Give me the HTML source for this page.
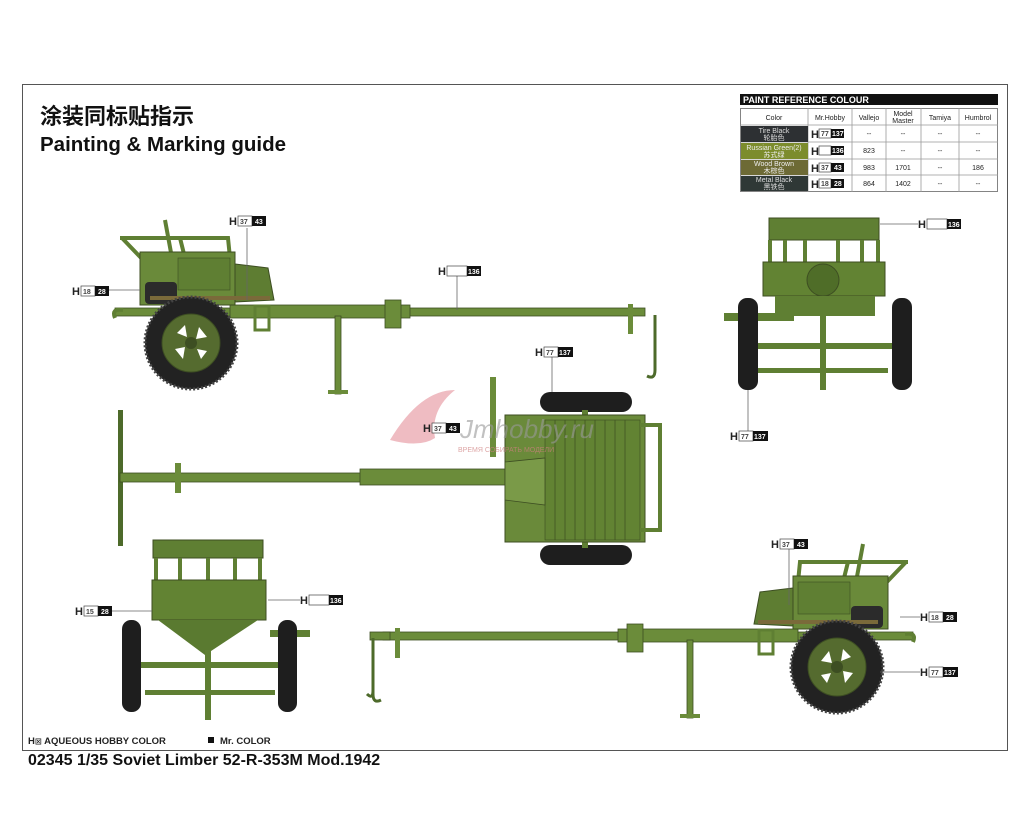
<!DOCTYPE html>
<html><head><meta charset="utf-8"><style>
html,body{margin:0;padding:0;background:#fff;}
svg{display:block;}
text{font-family:"Liberation Sans","Noto Sans CJK SC",sans-serif;}
</style></head><body>
<svg width="1024" height="838" viewBox="0 0 1024 838" xmlns="http://www.w3.org/2000/svg">
<defs>
<g id="wheel">
<circle r="46" fill="#222"/>
<circle r="46" fill="none" stroke="#444" stroke-width="3" stroke-dasharray="2 2"/>
<circle r="29" fill="#556b2f"/>
<circle r="29" fill="none" stroke="#3d4e22" stroke-width="1"/>
<path d="M-14,-10 L-6,-18 L-4,-6Z M8,-16 L16,-6 L5,-4Z M-16,6 L-6,4 L-8,16Z M6,6 L16,8 L10,16Z" fill="#fff"/>
<circle r="6" fill="#3d4e22"/>
</g>
<g id="side">
<rect x="115" y="308" width="530" height="8" fill="#6b8c3a" stroke="#3d4e22" stroke-width="0.8"/>
<rect x="230" y="305" width="180" height="13" fill="#6b8c3a" stroke="#3d4e22" stroke-width="0.8"/>
<rect x="385" y="300" width="16" height="28" fill="#6b8c3a" stroke="#3d4e22" stroke-width="0.8"/>
<rect x="335" y="316" width="6" height="78" fill="#6b8c3a" stroke="#3d4e22" stroke-width="0.8"/>
<rect x="328" y="390" width="20" height="4" fill="#6b8c3a"/>
<rect x="628" y="304" width="5" height="30" fill="#6b8c3a"/>
<path d="M655,315 L655,370 q0,10 -8,6" fill="none" stroke="#4d6a2a" stroke-width="3"/>
<path d="M122,238 L145,262 M120,238 L228,238 L230,258 M165,220 L172,258 M180,238 L185,258" fill="none" stroke="#5f7f33" stroke-width="4"/>
<rect x="140" y="252" width="95" height="53" fill="#6a8a3a" stroke="#3d4e22"/>
<rect x="178" y="258" width="52" height="32" fill="#5f7f33" stroke="#3d4e22" stroke-width="0.6"/>
<path d="M235,264 L268,268 L274,300 L235,302Z" fill="#5e7d32" stroke="#3d4e22"/>
<rect x="145" y="282" width="32" height="22" rx="4" fill="#2b2b2b"/>
<rect x="150" y="296" width="120" height="4" fill="#7a6a3a"/>
<path d="M115,318 q-4,-10 8,-8" fill="none" stroke="#5f7f33" stroke-width="4"/>
<rect x="255" y="306" width="14" height="24" fill="none" stroke="#5f7f33" stroke-width="3"/>
<use href="#wheel" x="191" y="343"/>
</g>
</defs>

<rect x="22.5" y="84.5" width="985" height="666" fill="none" stroke="#555" stroke-width="1"/>
<text x="40" y="124" font-size="22" font-weight="bold" fill="#111">涂装同标贴指示</text>
<text x="40" y="151" font-size="20.5" font-weight="bold" fill="#111">Painting &amp; Marking guide</text>

<rect x="740" y="94" width="258" height="11" fill="#111"/>
<text x="743" y="103" font-size="9" font-weight="bold" fill="#fff">PAINT  REFERENCE COLOUR</text>
<g font-size="7" fill="#222" text-anchor="middle">
<rect x="740.5" y="108.5" width="257" height="83" fill="#fff" stroke="#666" stroke-width="0.8"/>
<path d="M808,108 V192 M852,108 V192 M886,108 V192 M921,108 V192 M959,108 V192 M740,125 H998 M740,142 H998 M740,159 H998 M740,175 H998" stroke="#999" stroke-width="0.8"/>
<text x="774" y="120">Color</text><text x="830" y="120">Mr.Hobby</text><text x="869" y="120">Vallejo</text>
<text x="903" y="116">Model</text><text x="903" y="123">Master</text><text x="940" y="120">Tamiya</text><text x="978" y="120">Humbrol</text>
<rect x="741" y="126" width="67" height="16" fill="#2d3033"/><text x="774" y="133" fill="#ddd">Tire Black</text><text x="774" y="140" fill="#ddd">轮胎色</text>
<rect x="741" y="143" width="67" height="16" fill="#7c8c2c"/><text x="774" y="150" fill="#eee">Russian Green(2)</text><text x="774" y="157" fill="#eee">苏式绿</text>
<rect x="741" y="160" width="67" height="15" fill="#6d6a35"/><text x="774" y="166" fill="#eee">Wood Brown</text><text x="774" y="173" fill="#eee">木棕色</text>
<rect x="741" y="176" width="67" height="15" fill="#2f3836"/><text x="774" y="182" fill="#ddd">Metal  Black</text><text x="774" y="189" fill="#ddd">黑铁色</text>
<text x="869" y="153">823</text><text x="869" y="170">983</text><text x="869" y="186">864</text>
<text x="903" y="170">1701</text><text x="903" y="186">1402</text><text x="978" y="170">186</text>
<text x="869" y="136">--</text><text x="903" y="136">--</text><text x="940" y="136">--</text><text x="978" y="136">--</text>
<text x="903" y="153">--</text><text x="940" y="153">--</text><text x="978" y="153">--</text>
<text x="940" y="170">--</text><text x="940" y="186">--</text><text x="978" y="186">--</text>
</g>
<g font-size="7" font-weight="bold">
<text x="811" y="138" font-size="11" fill="#222">H</text><rect x="819" y="129" width="12" height="9" fill="#fff" stroke="#444" stroke-width="0.7"/><text x="821" y="136" fill="#444">77</text><rect x="831" y="129" width="13" height="9" fill="#111"/><text x="832" y="136" fill="#fff">137</text>
<text x="811" y="155" font-size="11" fill="#222">H</text><rect x="819" y="146" width="12" height="9" fill="#fff" stroke="#444" stroke-width="0.7"/><rect x="831" y="146" width="13" height="9" fill="#111"/><text x="832" y="153" fill="#fff">136</text>
<text x="811" y="172" font-size="11" fill="#222">H</text><rect x="819" y="163" width="12" height="9" fill="#fff" stroke="#444" stroke-width="0.7"/><text x="821" y="170" fill="#444">37</text><rect x="831" y="163" width="13" height="9" fill="#111"/><text x="834" y="170" fill="#fff">43</text>
<text x="811" y="188" font-size="11" fill="#222">H</text><rect x="819" y="179" width="12" height="9" fill="#fff" stroke="#444" stroke-width="0.7"/><text x="821" y="186" fill="#444">18</text><rect x="831" y="179" width="13" height="9" fill="#111"/><text x="834" y="186" fill="#fff">28</text>
</g>

<use href="#side"/>
<use href="#side" transform="translate(1028,324) scale(-1,1)"/>
<rect x="370" y="632" width="20" height="8" fill="#6b8c3a" stroke="#3d4e22" stroke-width="0.8"/>
<path d="M373,638 L373,690 q0,10 -6,4" fill="none" stroke="#4d6a2a" stroke-width="3"/>

<rect x="118" y="410" width="5" height="136" fill="#4d6a2a"/>
<rect x="120" y="473" width="390" height="9" fill="#6b8c3a" stroke="#3d4e22" stroke-width="0.8"/>
<rect x="360" y="469" width="150" height="16" fill="#6b8c3a" stroke="#3d4e22" stroke-width="0.8"/>
<rect x="175" y="463" width="6" height="30" fill="#6b8c3a"/>
<rect x="490" y="377" width="6" height="80" fill="#6b8c3a"/>
<rect x="540" y="392" width="92" height="20" rx="10" fill="#1e1e1e"/>
<rect x="540" y="545" width="92" height="20" rx="10" fill="#1e1e1e"/>
<rect x="582" y="410" width="6" height="138" fill="#5f7f33"/>
<rect x="505" y="415" width="140" height="127" fill="#6a8a3a" stroke="#3d4e22"/>
<rect x="545" y="420" width="95" height="120" fill="#628333" stroke="#3d4e22" stroke-width="0.6"/>
<path d="M555,420V540 M565,420V540 M575,420V540 M585,420V540 M595,420V540 M605,420V540 M615,420V540 M625,420V540" stroke="#3d4e22" stroke-width="0.7"/>
<path d="M505,462 L545,458 L545,505 L505,500Z" fill="#7a9a48" stroke="#3d4e22" stroke-width="0.8"/>
<path d="M640,425 L660,425 L660,530 L640,530" fill="none" stroke="#5f7f33" stroke-width="4"/>
<path d="M390,440 q30,-50 65,-50 q-25,20 -20,48 q-15,10 -45,2Z" fill="#e8a0a8" opacity="0.7"/>
<text x="460" y="438" font-size="26" font-style="italic" font-family="Liberation Serif" fill="#999" opacity="0.6">Jmhobby.ru</text>
<text x="458" y="452" font-size="7" fill="#d08080" opacity="0.7">ВРЕМЯ СОБИРАТЬ МОДЕЛИ</text>

<rect x="769" y="218" width="110" height="22" fill="#5f7f33" stroke="#3d4e22"/>
<path d="M770,240V272 M785,240V262 M805,240V262 M838,240V262 M862,240V262 M878,240V272" stroke="#5f7f33" stroke-width="4"/>
<rect x="763" y="262" width="122" height="34" fill="#628333" stroke="#3d4e22"/>
<circle cx="823" cy="280" r="16" fill="#4f6d28" stroke="#3d4e22"/>
<rect x="775" y="296" width="100" height="20" fill="#5f7f33"/>
<rect x="724" y="313" width="70" height="8" fill="#5f7f33"/>
<rect x="748" y="343" width="146" height="6" fill="#5f7f33"/>
<rect x="758" y="368" width="130" height="5" fill="#5f7f33"/>
<rect x="820" y="310" width="6" height="80" fill="#5f7f33"/>
<rect x="738" y="298" width="20" height="92" rx="9" fill="#1e1e1e"/>
<rect x="892" y="298" width="20" height="92" rx="9" fill="#1e1e1e"/>

<rect x="153" y="540" width="110" height="18" fill="#5f7f33" stroke="#3d4e22"/>
<path d="M156,558V585 M180,558V580 M208,558V580 M235,558V580 M260,558V585" stroke="#5f7f33" stroke-width="4"/>
<rect x="152" y="580" width="114" height="40" fill="#628333" stroke="#3d4e22"/>
<path d="M158,620 L205,655 L258,620Z" fill="#5a7a30"/>
<rect x="140" y="662" width="142" height="6" fill="#5f7f33"/>
<rect x="145" y="690" width="130" height="5" fill="#5f7f33"/>
<rect x="205" y="650" width="6" height="70" fill="#5f7f33"/>
<rect x="270" y="630" width="40" height="7" fill="#5f7f33"/>
<rect x="122" y="620" width="19" height="92" rx="9" fill="#1e1e1e"/>
<rect x="278" y="620" width="19" height="92" rx="9" fill="#1e1e1e"/>

<g stroke="#666" stroke-width="0.8" fill="none">
<path d="M247,228V300 M108,290H140 M457,276V310 M552,357V392 M880,224H918 M748,390V432 M268,600H300 M112,611H152 M789,549V605 M900,617H920 M880,672H920"/>
</g>

<g font-size="7" font-weight="bold">
<g transform="translate(229,215)"><text x="0" y="10" font-size="11" fill="#222">H</text><rect x="9" y="1" width="14" height="10" fill="#fff" stroke="#444" stroke-width="0.7"/><text x="11" y="9" fill="#444">37</text><rect x="23" y="1" width="14" height="10" fill="#111"/><text x="26" y="9" fill="#fff">43</text></g>
<g transform="translate(72,285)"><text x="0" y="10" font-size="11" fill="#222">H</text><rect x="9" y="1" width="14" height="10" fill="#fff" stroke="#444" stroke-width="0.7"/><text x="11" y="9" fill="#444">18</text><rect x="23" y="1" width="14" height="10" fill="#111"/><text x="26" y="9" fill="#fff">28</text></g>
<g transform="translate(438,265)"><text x="0" y="10" font-size="11" fill="#222">H</text><rect x="9" y="1" width="20" height="10" fill="#fff" stroke="#444" stroke-width="0.7"/><rect x="29" y="1" width="14" height="10" fill="#111"/><text x="30" y="9" fill="#fff">136</text></g>
<g transform="translate(535,346)"><text x="0" y="10" font-size="11" fill="#222">H</text><rect x="9" y="1" width="14" height="10" fill="#fff" stroke="#444" stroke-width="0.7"/><text x="11" y="9" fill="#444">77</text><rect x="23" y="1" width="15" height="10" fill="#111"/><text x="24" y="9" fill="#fff">137</text></g>
<g transform="translate(423,422)"><text x="0" y="10" font-size="11" fill="#222">H</text><rect x="9" y="1" width="14" height="10" fill="#fff" stroke="#444" stroke-width="0.7"/><text x="11" y="9" fill="#444">37</text><rect x="23" y="1" width="14" height="10" fill="#111"/><text x="26" y="9" fill="#fff">43</text></g>
<g transform="translate(918,218)"><text x="0" y="10" font-size="11" fill="#222">H</text><rect x="9" y="1" width="20" height="10" fill="#fff" stroke="#444" stroke-width="0.7"/><rect x="29" y="1" width="14" height="10" fill="#111"/><text x="30" y="9" fill="#fff">136</text></g>
<g transform="translate(730,430)"><text x="0" y="10" font-size="11" fill="#222">H</text><rect x="9" y="1" width="14" height="10" fill="#fff" stroke="#444" stroke-width="0.7"/><text x="11" y="9" fill="#444">77</text><rect x="23" y="1" width="15" height="10" fill="#111"/><text x="24" y="9" fill="#fff">137</text></g>
<g transform="translate(75,605)"><text x="0" y="10" font-size="11" fill="#222">H</text><rect x="9" y="1" width="14" height="10" fill="#fff" stroke="#444" stroke-width="0.7"/><text x="11" y="9" fill="#444">15</text><rect x="23" y="1" width="14" height="10" fill="#111"/><text x="26" y="9" fill="#fff">28</text></g>
<g transform="translate(300,594)"><text x="0" y="10" font-size="11" fill="#222">H</text><rect x="9" y="1" width="20" height="10" fill="#fff" stroke="#444" stroke-width="0.7"/><rect x="29" y="1" width="14" height="10" fill="#111"/><text x="30" y="9" fill="#fff">136</text></g>
<g transform="translate(771,538)"><text x="0" y="10" font-size="11" fill="#222">H</text><rect x="9" y="1" width="14" height="10" fill="#fff" stroke="#444" stroke-width="0.7"/><text x="11" y="9" fill="#444">37</text><rect x="23" y="1" width="14" height="10" fill="#111"/><text x="26" y="9" fill="#fff">43</text></g>
<g transform="translate(920,611)"><text x="0" y="10" font-size="11" fill="#222">H</text><rect x="9" y="1" width="14" height="10" fill="#fff" stroke="#444" stroke-width="0.7"/><text x="11" y="9" fill="#444">18</text><rect x="23" y="1" width="14" height="10" fill="#111"/><text x="26" y="9" fill="#fff">28</text></g>
<g transform="translate(920,666)"><text x="0" y="10" font-size="11" fill="#222">H</text><rect x="9" y="1" width="14" height="10" fill="#fff" stroke="#444" stroke-width="0.7"/><text x="11" y="9" fill="#444">77</text><rect x="23" y="1" width="15" height="10" fill="#111"/><text x="24" y="9" fill="#fff">137</text></g>
</g>

<text x="28" y="744" font-size="9.5" font-weight="bold" fill="#222">H<tspan font-size="7">⊠</tspan> AQUEOUS HOBBY COLOR</text>
<rect x="208" y="737" width="6" height="6" fill="#111"/>
<text x="220" y="744" font-size="9.5" font-weight="bold" fill="#222">Mr. COLOR</text>
<text x="28" y="765" font-size="16" font-weight="bold" fill="#111">02345 1/35  Soviet Limber 52-R-353M Mod.1942</text>
</svg>
</body></html>
